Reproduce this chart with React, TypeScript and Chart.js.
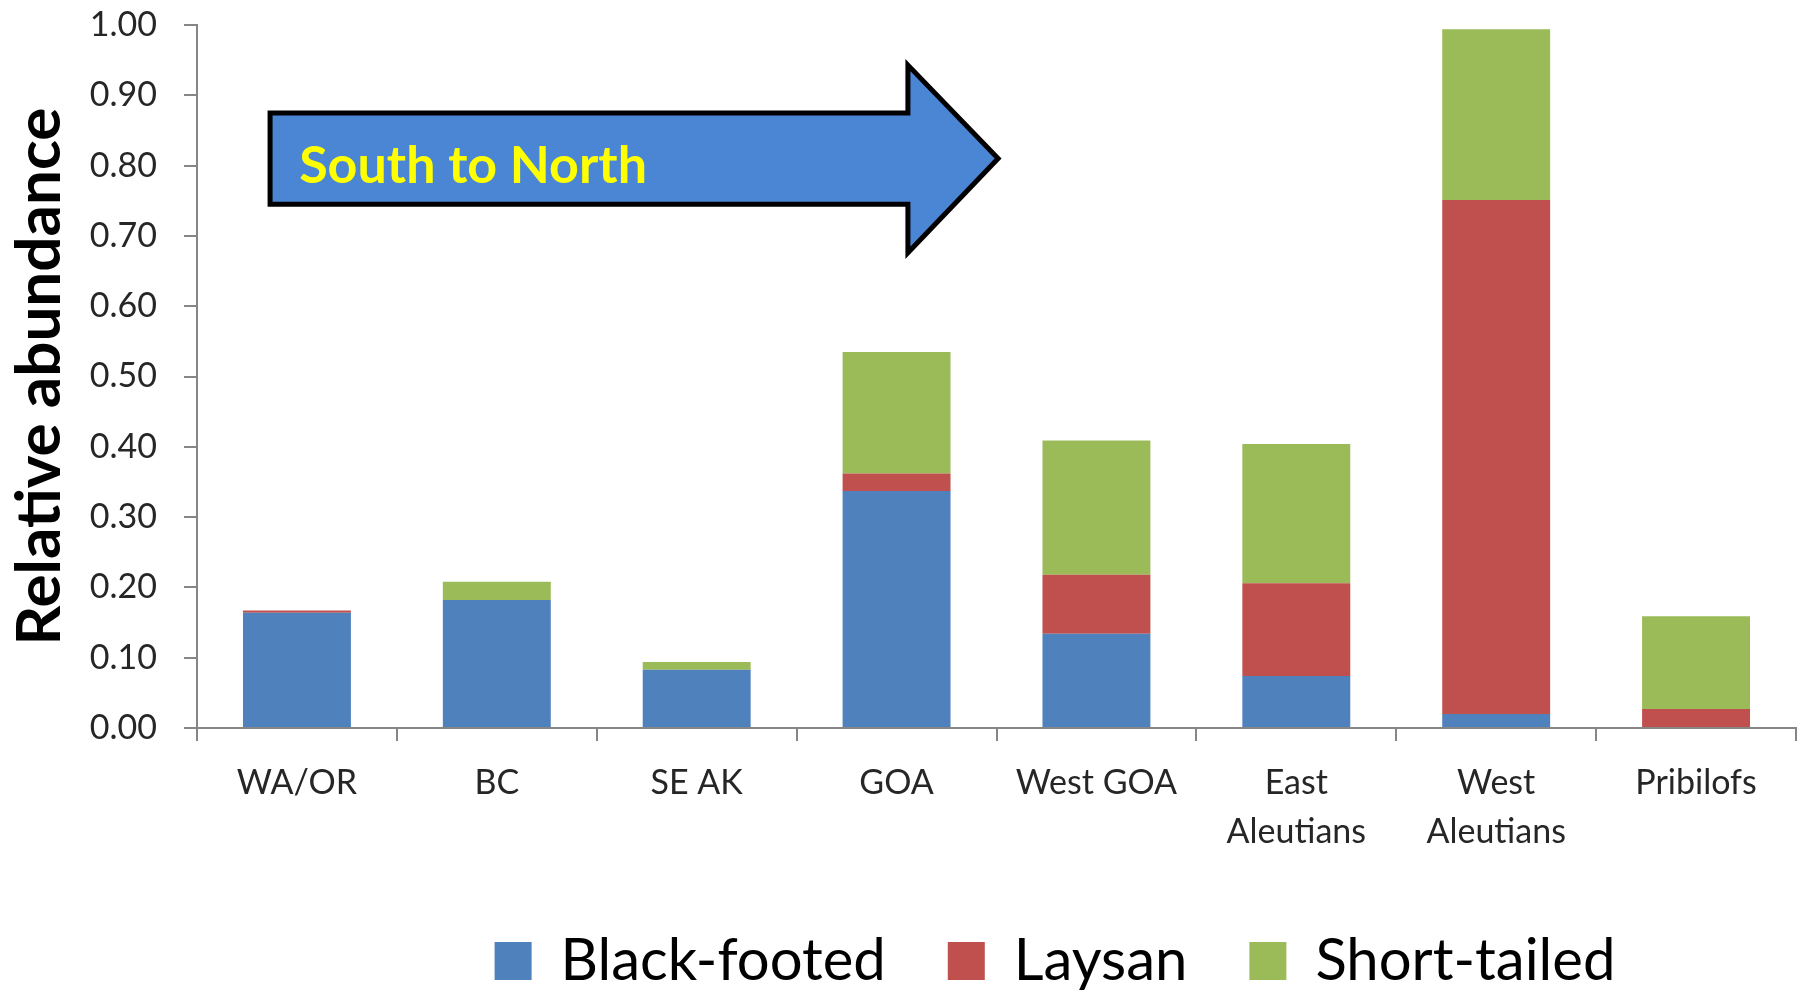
import React, { useEffect, useRef } from "react";
import { Chart, registerables } from "chart.js";

Chart.register(...registerables);

// ---------- data ----------
const categories: (string | string[])[] = [
  "WA/OR",
  "BC",
  "SE AK",
  "GOA",
  "West GOA",
  ["East", "Aleutians"],
  ["West", "Aleutians"],
  "Pribilofs",
];
const blackFooted = [0.164, 0.182, 0.083, 0.337, 0.134, 0.074, 0.02, 0.0];
const laysan = [0.003, 0.0, 0.0, 0.025, 0.084, 0.132, 0.731, 0.027];
const shortTailed = [0.0, 0.026, 0.011, 0.173, 0.191, 0.198, 0.243, 0.132];
const seriesNames = ["Black-footed", "Laysan", "Short-tailed"];
const seriesColors = ["#4F81BD", "#C0504D", "#9BBB59"];
const yMin = 0;
const yMax = 1;
const yStep = 0.1;
const yAxisTitle = "Relative abundance";
const arrowLabel = "South to North";

const FONT = "Lato, 'Open Sans', sans-serif";

const arrowPlugin = {
  id: "southNorthArrow",
  afterDatasetsDraw(chart: any) {
    const { ctx, chartArea } = chart;
    const y = chart.scales.y;
    const fx = (f: number) => chartArea.left + f * (chartArea.right - chartArea.left);
    const xL = fx(0.0457);
    const xN = fx(0.4446);
    const xT = fx(0.501);
    const bTop = y.getPixelForValue(0.875);
    const bBot = y.getPixelForValue(0.745);
    const hTop = y.getPixelForValue(0.943);
    const hBot = y.getPixelForValue(0.676);
    const tipY = (bTop + bBot) / 2;
    ctx.save();
    ctx.beginPath();
    ctx.moveTo(xL, bTop);
    ctx.lineTo(xN, bTop);
    ctx.lineTo(xN, hTop);
    ctx.lineTo(xT, tipY);
    ctx.lineTo(xN, hBot);
    ctx.lineTo(xN, bBot);
    ctx.lineTo(xL, bBot);
    ctx.closePath();
    ctx.fillStyle = "#4A86D4";
    ctx.fill();
    ctx.lineWidth = 5;
    ctx.lineJoin = "miter";
    ctx.strokeStyle = "#000000";
    ctx.stroke();
    ctx.font = `bold 52px ${FONT}`;
    ctx.fillStyle = "#FFFF00";
    ctx.textBaseline = "alphabetic";
    ctx.textAlign = "left";
    ctx.fillText(arrowLabel, fx(0.0639), y.getPixelForValue(0.775));
    ctx.restore();
  },
};

const legendShiftPlugin = {
  id: "legendShift",
  afterLayout(chart: any) {
    const lg = chart.legend;
    if (!lg) return;
    const pad = lg.options.labels.padding;
    const itemH = Math.max(lg.options.labels.boxHeight, lg.options.labels.font.size);
    const wantTop = 961 - pad - itemH / 2;
    const dy = wantTop - lg.top;
    lg.top += dy;
    lg.bottom += dy;
    const dx = 1055 - (lg.left + lg.right) / 2;
    lg.left += dx;
    lg.right += dx;
  },
};

export default function App() {
  const ref = useRef<HTMLCanvasElement | null>(null);

  useEffect(() => {
    document.body.style.margin = "0";
    const canvas = ref.current;
    if (!canvas) return;
    const chart = new Chart(canvas, {
      type: "bar",
      data: {
        labels: categories as any,
        datasets: [
          { label: seriesNames[0], data: blackFooted, backgroundColor: seriesColors[0], borderWidth: 0 },
          { label: seriesNames[1], data: laysan, backgroundColor: seriesColors[1], borderWidth: 0 },
          { label: seriesNames[2], data: shortTailed, backgroundColor: seriesColors[2], borderWidth: 0 },
        ],
      },
      options: {
        responsive: false,
        devicePixelRatio: 1,
        animation: false,
        datasets: { bar: { barPercentage: 0.54, categoryPercentage: 1.0 } },
        layout: { padding: { top: 25, right: 14, left: 0, bottom: 0 } },
        plugins: {
          tooltip: { enabled: false },
          legend: {
            display: true,
            position: "bottom",
            labels: {
              font: { family: FONT, size: 58 },
              color: "#000000",
              boxWidth: 37,
              boxHeight: 38,
              padding: 62,
            },
          },
        },
        scales: {
          x: {
            stacked: true,
            offset: true,
            grid: {
              display: true,
              drawOnChartArea: false,
              drawTicks: true,
              tickLength: 13,
              color: "#868686",
              lineWidth: 2,
              offset: true,
            },
            border: { display: true, color: "#868686", width: 2 },
            ticks: {
              font: { family: FONT, size: 34, lineHeight: 1.44 },
              color: "#262626",
              padding: 18,
              maxRotation: 0,
              minRotation: 0,
              autoSkip: false,
            },
            afterFit: (scale: any) => {
              const lh = scale.chart.legend ? scale.chart.legend.height : 0;
              scale.height = 264 - lh;
            },
          },
          y: {
            stacked: true,
            min: yMin,
            max: yMax,
            grid: {
              display: true,
              drawOnChartArea: false,
              drawTicks: true,
              tickLength: 13,
              color: "#868686",
              lineWidth: 2,
            },
            border: { display: true, color: "#868686", width: 2 },
            ticks: {
              stepSize: yStep,
              font: { family: FONT, size: 34 },
              color: "#262626",
              padding: 27,
              callback: (v: any) => Number(v).toFixed(2),
            },
            title: {
              display: true,
              text: yAxisTitle,
              font: { family: FONT, size: 62, weight: "bold", lineHeight: 1.2 },
              color: "#000000",
              padding: { top: 3, bottom: 0 },
            },
            afterFit: (scale: any) => {
              scale.width = 197;
              scale.paddingTop = 0;
              scale.paddingBottom = 0;
            },
          },
        },
      },
      plugins: [arrowPlugin, legendShiftPlugin],
    } as any);
    return () => chart.destroy();
  }, []);

  return (
    <canvas
      ref={ref}
      width={1810}
      height={992}
      style={{ display: "block", width: 1810, height: 992 }}
    />
  );
}
